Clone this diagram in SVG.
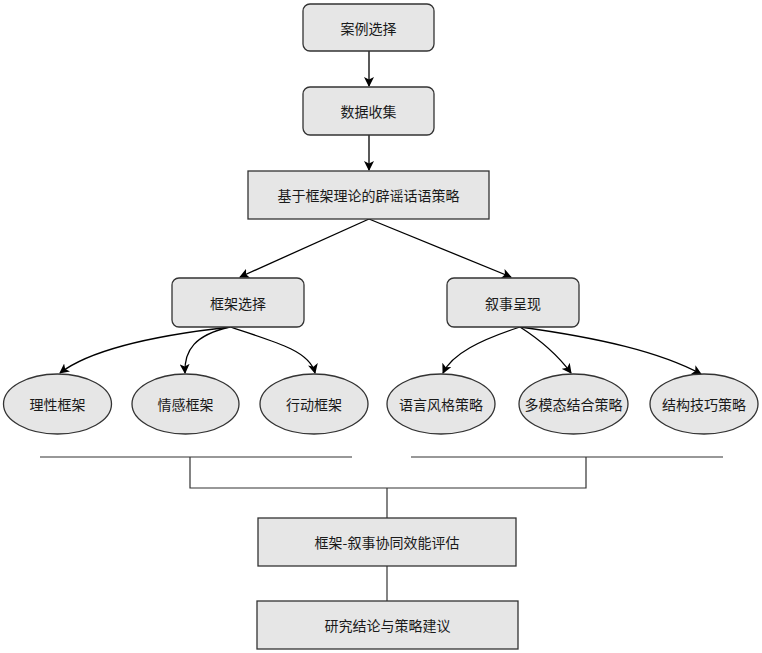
<svg xmlns="http://www.w3.org/2000/svg" width="762" height="653" viewBox="0 0 762 653">
<defs>
<marker id="ah" markerWidth="10" markerHeight="10" refX="9" refY="5" orient="auto" markerUnits="userSpaceOnUse">
<path d="M0,0 L10,5 L0,10 L2.5,5 Z" fill="#000"/>
</marker>
<style>
.box{fill:#e6e6e6;stroke:#333;stroke-width:1.3}
.t{font-family:"Noto Sans CJK SC","Noto Sans",sans-serif;font-size:14px;fill:#1a1a1a;text-anchor:middle;dominant-baseline:central}
.c{fill:none;stroke:#000;stroke-width:1.3;marker-end:url(#ah)}
.l{fill:none;stroke:#333;stroke-width:1.2}
</style>
</defs>
<rect width="762" height="653" fill="#fff"/>
<g id="connectors">
<path class="c" d="M369,51 L369,86"/>
<path class="c" d="M369,135 L369,170"/>
<path class="c" d="M369,219 L240,277"/>
<path class="c" d="M369,219 L511,277"/>
<path class="c" d="M230,327 C150,336 90,350 60,373"/>
<path class="c" d="M230,327 C195,335 184,350 185,373"/>
<path class="c" d="M230,327 C280,343 310,352 315,373"/>
<path class="c" d="M520,327 C480,340 452,354 443,373"/>
<path class="c" d="M520,327 C545,343 560,358 571,373"/>
<path class="c" d="M520,327 C600,338 660,352 701,374"/>
<path class="l" d="M40,457 L352,457 M411,457 L723,457"/>
<path class="l" d="M190,457 L190,488 L586,488 L586,457 M387,488 L387,518"/>
<path class="l" d="M387,566 L387,601"/>
</g>
<g id="n1"><rect class="box" x="303" y="4" width="131" height="47" rx="7"/><text class="t" x="368.5" y="27.5">案例选择</text></g>
<g id="n2"><rect class="box" x="303" y="87" width="131" height="48" rx="7"/><text class="t" x="368.5" y="111">数据收集</text></g>
<g id="n3"><rect class="box" x="248" y="171" width="241" height="48"/><text class="t" x="368.5" y="195">基于框架理论的辟谣话语策略</text></g>
<g id="n4"><rect class="box" x="172" y="278" width="132" height="49" rx="7"/><text class="t" x="238" y="302.5">框架选择</text></g>
<g id="n5"><rect class="box" x="447" y="278" width="132" height="49" rx="7"/><text class="t" x="513" y="302.5">叙事呈现</text></g>
<g id="e1"><ellipse class="box" cx="57.5" cy="404" rx="54" ry="30"/><text class="t" x="57.5" y="404">理性框架</text></g>
<g id="e2"><ellipse class="box" cx="185.5" cy="404" rx="53.5" ry="30"/><text class="t" x="185.5" y="404">情感框架</text></g>
<g id="e3"><ellipse class="box" cx="314" cy="404" rx="54" ry="30"/><text class="t" x="314" y="404">行动框架</text></g>
<g id="e4"><ellipse class="box" cx="441" cy="404" rx="54" ry="30"/><text class="t" x="441" y="404">语言风格策略</text></g>
<g id="e5"><ellipse class="box" cx="573.5" cy="404" rx="54.5" ry="30"/><text class="t" x="573.5" y="404">多模态结合策略</text></g>
<g id="e6"><ellipse class="box" cx="704" cy="404" rx="54" ry="30"/><text class="t" x="704" y="404">结构技巧策略</text></g>
<g id="n6"><rect class="box" x="258" y="518" width="258" height="48"/><text class="t" x="387" y="542">框架-叙事协同效能评估</text></g>
<g id="n7"><rect class="box" x="257" y="601" width="261" height="48"/><text class="t" x="387.5" y="625">研究结论与策略建议</text></g>
</svg>
